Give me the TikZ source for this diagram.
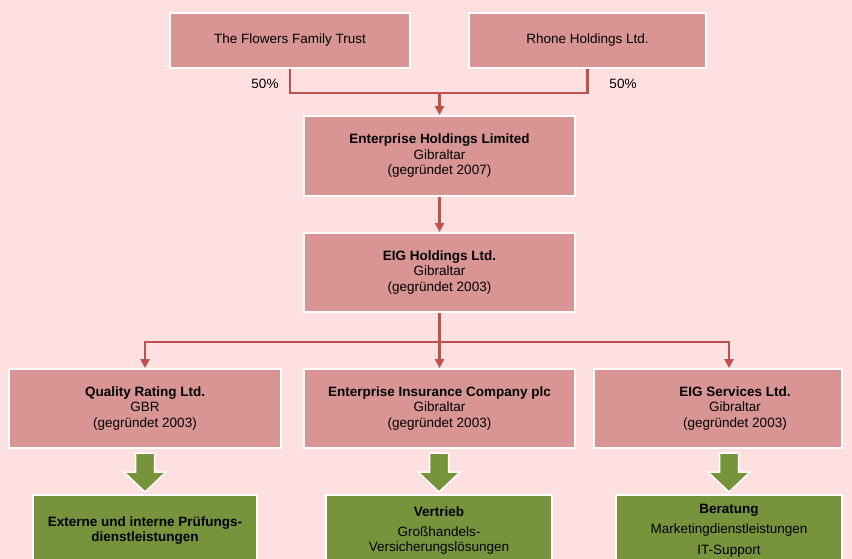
\documentclass[tikz,border=0pt]{standalone}
\usepackage{fontspec}
\setmainfont{Liberation Sans}
\usetikzlibrary{arrows.meta,positioning,calc}

\definecolor{bgpink}{RGB}{255,224,224}
\definecolor{boxpink}{RGB}{217,149,148}
\definecolor{linkred}{RGB}{192,80,77}
\definecolor{olivegreen}{RGB}{119,147,60}

\begin{document}
\begin{tikzpicture}[
	x=1pt, y=-1pt,
	font=\fontsize{13.5}{15.5}\selectfont,
	>={Triangle[width=9pt,length=9pt]},
	company/.style={
		rectangle, draw=white, line width=2pt,
		fill=boxpink, align=center, inner sep=0pt
	},
	business/.style={
		rectangle, draw=white, line width=2pt,
		fill=olivegreen, align=center, inner sep=0pt,
		anchor=north, minimum height=71pt
	},
	link/.style={draw=linkred, line width=2.3pt},
	blockarrow/.style={fill=olivegreen, draw=white, line width=1.5pt},
	share/.style={inner sep=0pt}
]

% Canvas
\useasboundingbox (0,0) rectangle (852,559);
\fill[bgpink] (0,0) rectangle (852,559);
\clip (0,0) rectangle (852,559);

% Owners
\node[company, minimum width=240pt, minimum height=55pt] (flowers) at (290,40.5) {The Flowers Family Trust};
\node[company, minimum width=237pt, minimum height=55pt] (rhone)   at (587.5,40.5) {Rhone Holdings Ltd.};
\node[share] (shflowers) at (265,84) {50\%};
\node[share] (shrhone)   at (623,84) {50\%};

% Holding spine x=439.5
\node[company, minimum width=271pt, minimum height=80pt] (ehl) at (439.5,156) {
	\textbf{Enterprise Holdings Limited}\\
	Gibraltar\\
	(gegründet 2007)
};
\node[company, minimum width=271pt, minimum height=79pt] (eig) at (439.5,272.5) {
	\textbf{EIG Holdings Ltd.}\\
	Gibraltar\\
	(gegründet 2003)
};

\draw[link] (flowers.south) -- ++(0,24) coordinate (own) -| (rhone.south);
\draw[link,->] (own -| ehl.north) -- (ehl.north);
\draw[link,->] (ehl) -- (eig);

% Subsidiaries
\node[company, minimum width=272pt, minimum height=79pt] (qrl) at (145,408.5) {
	\textbf{Quality Rating Ltd.}\\
	GBR\\
	(gegründet 2003)
};
\node[company, minimum width=271pt, minimum height=79pt] (eic) at (439.5,408.5) {
	\textbf{Enterprise Insurance Company plc}\\
	Gibraltar\\
	(gegründet 2003)
};
\node[company, minimum width=248pt, minimum height=79pt] (svc) at (718,408.5) {};
\node[align=center, inner sep=0pt] (svclabel) at ([xshift=17pt]svc.center) {
	\textbf{EIG Services Ltd.}\\
	Gibraltar\\
	(gegründet 2003)
};

\draw[link] (eig.south) -- ++(0,29) coordinate (bus);
\draw[link,->] (bus) -| (qrl.north);
\draw[link,->] (bus) -- (eic.north);
\draw[link,->] (bus) -| ([xshift=11pt]svc.north);

% Business lines
\node[business, minimum width=224pt] (qrlfn) at (145,494) {
	\textbf{Externe und interne Prüfungs-}\\
	\textbf{dienstleistungen}
};
\node[business, minimum width=226pt] (eicfn) at (439,494) {
	\textbf{Vertrieb}\\[4.5pt]
	Großhandels-\\
	Versicherungslösungen
};
\node[business, minimum width=226pt] (svcfn) at (729,494) {
	\textbf{Beratung}\\[4.5pt]
	Marketingdienstleistungen\\[5.5pt]
	IT-Support
};

\foreach \g in {qrlfn,eicfn,svcfn}
	\draw[blockarrow] ([yshift=2pt]\g.north) -- ++(-21,-20) -- ++(11.5,0) -- ++(0,-19)
		-- ++(19,0) -- ++(0,19) -- ++(11.5,0) -- cycle;

\end{tikzpicture}
\end{document}
